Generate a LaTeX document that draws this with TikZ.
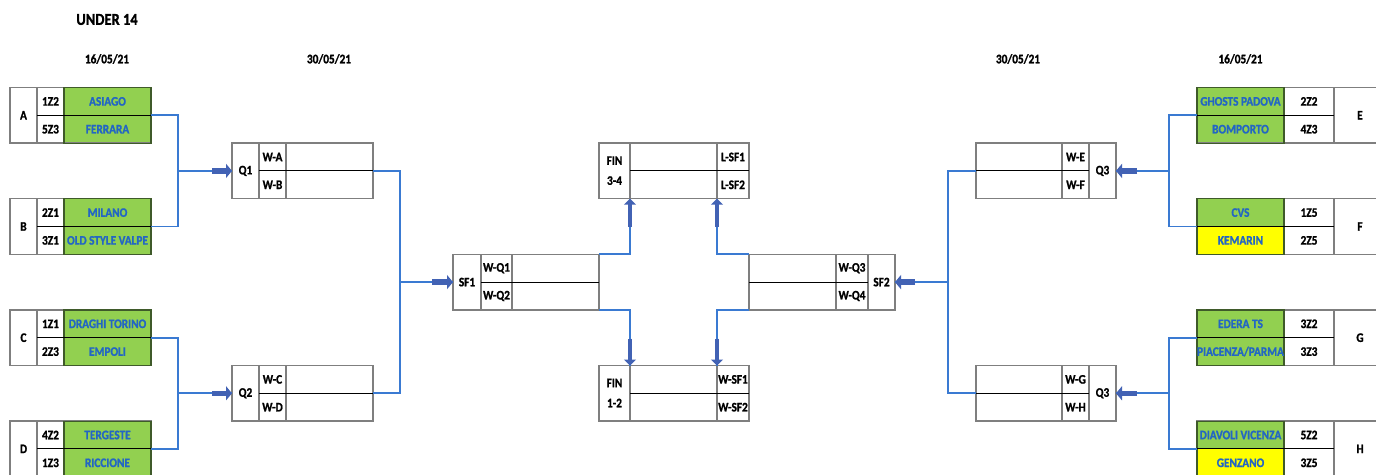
\documentclass[tikz,border=0pt]{standalone}
\usepackage{fontspec}
\setmainfont{Carlito}[BoldFont={Carlito Bold}, BoldFeatures={FakeBold=1.3}]
\usepackage{graphicx}
\usetikzlibrary{arrows.meta,calc}
\definecolor{cgreen}{HTML}{92D050}
\definecolor{cyellow}{HTML}{FFFF00}
\definecolor{tblue}{HTML}{2366C4}
\definecolor{lblue}{HTML}{3A7AD2}
\definecolor{ablue}{HTML}{4262B4}
\definecolor{fgray}{HTML}{7F7F7F}
\definecolor{gborder}{HTML}{3F5A2A}
\newcommand\vs[1]{\scalebox{1}[1.15]{#1}}
\tikzset{
 frame/.style={draw=fgray, line width=1.4pt, inner sep=0pt, outer sep=0pt, anchor=north west, minimum height=55.6pt},
 divider/.style={draw=fgray, line width=1.2pt},
 midline/.style={draw=black, line width=0.9pt},
 cellborder/.style={draw=gborder, line width=1.2pt},
 txt/.style={font=\fontsize{11.3}{13}\selectfont\bfseries, inner sep=0pt, text=black},
 team/.style={txt, text=tblue},
 conn/.style={draw=lblue, line width=1.8pt},
 harrow/.style={draw=ablue, line width=5.5pt, -{Triangle[length=6pt,width=14pt]}},
 varrow/.style={draw=ablue, line width=4.5pt, -{Triangle[length=6pt,width=12pt]}},
}
% left group: name, top, label, s1, t1, s2, t2, fill1, fill2
\newcommand\LGroup[9]{%
 \fill[#8] (64,#2) rectangle (151,#2+27.8);
 \fill[#9] (64,#2+27.8) rectangle (151,#2+55.6);
 \node[frame, minimum width=141pt] (#1) at (10,#2) {};
 \draw[cellborder] (64,#2) rectangle (151,#2+55.6);
 \draw[divider] (37,#2) -- (37,#2+55.6);
 \draw[midline] (37,#2+27.8) -- (151,#2+27.8);
 \node[txt] (#1-l) at (23.5,#2+27.8) {\vs{#3}};
 \node[txt] (#1-s1) at (50.5,#2+13.9) {\vs{#4}};
 \node[team] (#1-t1) at (107.5,#2+13.9) {\vs{#5}};
 \node[txt] (#1-s2) at (50.5,#2+41.7) {\vs{#6}};
 \node[team] (#1-t2) at (107.5,#2+41.7) {\vs{#7}};
}
% right group: name, top, label, s1, t1, s2, t2, fill1, fill2
\newcommand\RGroup[9]{%
 \fill[#8] (1197,#2) rectangle (1284,#2+27.8);
 \fill[#9] (1197,#2+27.8) rectangle (1284,#2+55.6);
 \node[frame, minimum width=189pt] (#1) at (1197,#2) {};
 \draw[cellborder] (1197,#2) rectangle (1284,#2+55.6);
 \draw[divider] (1334,#2) -- (1334,#2+55.6);
 \draw[midline] (1197,#2+27.8) -- (1334,#2+27.8);
 \node[txt] (#1-l) at (1360,#2+27.8) {\vs{#3}};
 \node[txt] (#1-s1) at (1309,#2+13.9) {\vs{#4}};
 \node[team] (#1-t1) at (1240.5,#2+13.9) {\vs{#5}};
 \node[txt] (#1-s2) at (1309,#2+41.7) {\vs{#6}};
 \node[team] (#1-t2) at (1240.5,#2+41.7) {\vs{#7}};
}
% box with label at left: name, top, xa, xb, xc, xd, label, r1, r2
\newcommand\BoxL[9]{%
 \node[frame, minimum width={(#6-#3)*1pt}] (#1) at (#3,#2) {};
 \draw[divider] (#4,#2) -- (#4,#2+55.6);
 \draw[divider] (#5,#2) -- (#5,#2+55.6);
 \draw[midline] (#4,#2+27.8) -- (#6,#2+27.8);
 \node[txt] (#1-l) at ({(#3+#4)/2},#2+27.8) {\vs{#7}};
 \node[txt] (#1-r1) at ({(#4+#5)/2},#2+13.9) {\vs{#8}};
 \node[txt] (#1-r2) at ({(#4+#5)/2},#2+41.7) {\vs{#9}};
}
% box with label at right
\newcommand\BoxR[9]{%
 \node[frame, minimum width={(#6-#3)*1pt}] (#1) at (#3,#2) {};
 \draw[divider] (#4,#2) -- (#4,#2+55.6);
 \draw[divider] (#5,#2) -- (#5,#2+55.6);
 \draw[midline] (#3,#2+27.8) -- (#5,#2+27.8);
 \node[txt] (#1-l) at ({(#5+#6)/2},#2+27.8) {\vs{#7}};
 \node[txt] (#1-r1) at ({(#4+#5)/2},#2+13.9) {\vs{#8}};
 \node[txt] (#1-r2) at ({(#4+#5)/2},#2+41.7) {\vs{#9}};
}
% final box: name, top, label2ndline, r1, r2
\newcommand\FinBox[5]{%
 \node[frame, minimum width=150pt] (#1) at (599,#2) {};
 \draw[divider] (630,#2) -- (630,#2+55.6);
 \draw[divider] (717,#2) -- (717,#2+55.6);
 \draw[midline] (630,#2+27.8) -- (749,#2+27.8);
 \node[txt] (#1-l1) at (614.5,#2+17.5) {\vs{FIN}};
 \node[txt] (#1-l2) at (614.5,#2+37.5) {\vs{#3}};
 \node[txt] (#1-r1) at (733,#2+13.9) {\vs{#4}};
 \node[txt] (#1-r2) at (733,#2+41.7) {\vs{#5}};
}
\begin{document}
\begin{tikzpicture}[x=1pt,y=-1pt]
\useasboundingbox (0,0) rectangle (1376,474);
\clip (0,0) rectangle (1376,474);
\fill[white] (0,0) rectangle (1376,474);
% headers
\node[txt, font=\fontsize{14.5}{16}\selectfont\bfseries] (title) at (107,19.5) {\vs{UNDER 14}};
\node[txt] (d1) at (107,59) {\vs{16/05/21}};
\node[txt] (d2) at (329,59) {\vs{30/05/21}};
\node[txt] (d3) at (1018,59) {\vs{30/05/21}};
\node[txt] (d4) at (1240.5,59) {\vs{16/05/21}};
% left groups
\LGroup{A}{87.5}{A}{1Z2}{ASIAGO}{5Z3}{FERRARA}{cgreen}{cgreen}
\LGroup{B}{198.7}{B}{2Z1}{MILANO}{3Z1}{OLD STYLE VALPE}{cgreen}{cgreen}
\LGroup{C}{309.9}{C}{1Z1}{DRAGHI TORINO}{2Z3}{EMPOLI}{cgreen}{cgreen}
\LGroup{D}{421.1}{D}{4Z2}{TERGESTE}{1Z3}{RICCIONE}{cgreen}{cgreen}
% right groups
\RGroup{E}{87.5}{E}{2Z2}{GHOSTS PADOVA}{4Z3}{BOMPORTO}{cgreen}{cgreen}
\RGroup{F}{198.7}{F}{1Z5}{CVS}{2Z5}{KEMARIN}{cgreen}{cyellow}
\RGroup{G}{309.9}{G}{3Z2}{EDERA TS}{3Z3}{PIACENZA/PARMA}{cgreen}{cgreen}
\RGroup{H}{421.1}{H}{5Z2}{DIAVOLI VICENZA}{3Z5}{GENZANO}{cgreen}{cyellow}
% quarter finals
\BoxL{Q1}{143.1}{232}{259}{286}{373}{Q1}{W-A}{W-B}
\BoxL{Q2}{365.5}{232}{259}{286}{373}{Q2}{W-C}{W-D}
\BoxR{Q3a}{143.1}{976}{1062}{1089}{1116}{Q3}{W-E}{W-F}
\BoxR{Q3b}{365.5}{976}{1062}{1089}{1116}{Q3}{W-G}{W-H}
% semi finals
\BoxL{SF1}{254.3}{453}{481}{512}{599}{SF1}{W-Q1}{W-Q2}
\BoxR{SF2}{254.3}{749}{836}{868}{895}{SF2}{W-Q3}{W-Q4}
% finals
\FinBox{F34}{143.1}{3-4}{L-SF1}{L-SF2}
\FinBox{F12}{365.5}{1-2}{W-SF1}{W-SF2}
\coordinate (F34L) at (630,198.7);
\coordinate (F34R) at (717,198.7);
\coordinate (F12L) at (630,365.5);
\coordinate (F12R) at (717,365.5);
% connectors left
\draw[conn] (A.east) -- ++(27,0) coordinate (tA) |- (B.east);
\draw[conn] (tA |- Q1.west) -- (Q1.west);
\draw[harrow] ([xshift=-20pt]Q1.west) -- (Q1.west);
\draw[conn] (C.east) -- ++(27,0) coordinate (tC) |- (D.east);
\draw[conn] (tC |- Q2.west) -- (Q2.west);
\draw[harrow] ([xshift=-20pt]Q2.west) -- (Q2.west);
\draw[conn] (Q1.east) -- ++(27,0) coordinate (tQ1) |- (Q2.east);
\draw[conn] (tQ1 |- SF1.west) -- (SF1.west);
\draw[harrow] ([xshift=-21pt]SF1.west) -- (SF1.west);
% connectors right
\draw[conn] (E.west) -- ++(-27.7,0) coordinate (tE) |- (F.west);
\draw[conn] (tE |- Q3a.east) -- (Q3a.east);
\draw[harrow] ([xshift=21pt]Q3a.east) -- (Q3a.east);
\draw[conn] (G.west) -- ++(-27.7,0) coordinate (tG) |- (H.west);
\draw[conn] (tG |- Q3b.east) -- (Q3b.east);
\draw[harrow] ([xshift=21pt]Q3b.east) -- (Q3b.east);
\draw[conn] (Q3a.west) -- ++(-27.7,0) coordinate (tQ3) |- (Q3b.west);
\draw[conn] (tQ3 |- SF2.east) -- (SF2.east);
\draw[harrow] ([xshift=20pt]SF2.east) -- (SF2.east);
% connectors to finals
\draw[conn] (SF1.north east) -| (F34L);
\draw[varrow] ([yshift=-28pt]F34L) -- (F34L);
\draw[conn] (SF1.south east) -| (F12L);
\draw[varrow] ([yshift=27pt]F12L) -- (F12L);
\draw[conn] (SF2.north west) -| (F34R);
\draw[varrow] ([yshift=-28pt]F34R) -- (F34R);
\draw[conn] (SF2.south west) -| (F12R);
\draw[varrow] ([yshift=27pt]F12R) -- (F12R);
\end{tikzpicture}
\end{document}
